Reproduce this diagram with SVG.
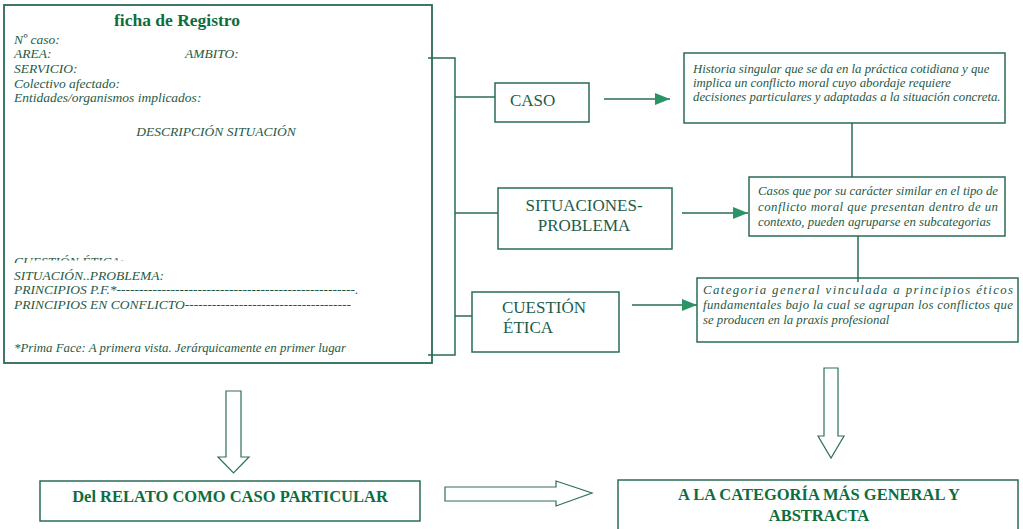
<svg xmlns="http://www.w3.org/2000/svg" width="1023" height="529" viewBox="0 0 1023 529">
<style>
.box{fill:none;stroke:#2a6b58;stroke-width:1.5}
.ln{fill:none;stroke:#2a6b58;stroke-width:1.5}
.hol{fill:#fff;stroke:#2f6e5e;stroke-width:1.2}
text{font-family:'Liberation Serif','Times New Roman',serif}
.it{font-style:italic;fill:#1f5a46;font-size:13.5px}
.itr{font-style:italic;fill:#1f5a46;font-size:12.8px}
.lab{fill:#1e5c4a;font-size:17px}
.bold{font-weight:bold;fill:#0d6d3f}
</style>
<defs>
<marker id="ah" markerUnits="userSpaceOnUse" markerWidth="16" markerHeight="12" refX="15" refY="6" orient="auto">
<path d="M0,0 L15,6 L0,12 Z" fill="#2b9467"/>
</marker>
<clipPath id="cutA"><rect x="10" y="250" width="21" height="13"/><rect x="31" y="250" width="150" height="10.5"/></clipPath>
</defs>

<g id="ficha">
<rect class="box" x="4" y="5" width="428" height="358" style="stroke-width:1.8"/>
<text class="bold" x="177" y="26" text-anchor="middle" font-size="17.5">ficha de Registro</text>
<text class="it" x="14" y="43.5">Nº caso:</text>
<text class="it" x="14" y="58">AREA:</text>
<text class="it" x="185" y="58">AMBITO:</text>
<text class="it" x="14" y="72.5">SERVICIO:</text>
<text class="it" x="14" y="87.5">Colectivo afectado:</text>
<text class="it" x="14" y="102">Entidades/organismos implicados:</text>
<text class="it" x="216" y="136" text-anchor="middle" font-size="14">DESCRIPCIÓN SITUACIÓN</text>
<text class="it" x="14" y="266" clip-path="url(#cutA)">CUESTIÓN ÉTICA:</text>
<text class="it" x="14" y="279.5">SITUACIÓN..PROBLEMA:</text>
<text class="it" x="14" y="294">PRINCIPIOS P.F.*-----------------------------------------------------.</text>
<text class="it" x="14" y="308.5">PRINCIPIOS EN CONFLICTO-------------------------------------</text>
<text class="it" x="14" y="352" textLength="332" lengthAdjust="spacingAndGlyphs">*Prima Face: A primera vista. Jerárquicamente en primer lugar</text>
</g>

<g id="caso">
<rect class="box" x="495" y="83" width="94" height="39"/>
<text class="lab" x="510" y="106">CASO</text>
</g>
<g id="situaciones">
<rect class="box" x="498" y="188" width="174" height="61"/>
<text class="lab" x="584" y="211" text-anchor="middle">SITUACIONES-</text>
<text class="lab" x="584" y="231" text-anchor="middle">PROBLEMA</text>
</g>
<g id="cuestion">
<rect class="box" x="472" y="292" width="147" height="60"/>
<text class="lab" x="502" y="313">CUESTIÓN</text>
<text class="lab" x="503" y="333">ÉTICA</text>
</g>

<g id="def-caso">
<rect class="box" x="684" y="53" width="321" height="70"/>
<text class="itr" x="693" y="72.5">Historia singular que se da en la práctica cotidiana y que</text>
<text class="itr" x="693" y="86.5">implica un conflicto moral cuyo abordaje requiere</text>
<text class="itr" x="693" y="100.5">decisiones particulares y adaptadas a la situación concreta.</text>
</g>
<g id="def-situaciones">
<rect class="box" x="749" y="177" width="256" height="59"/>
<text class="itr" x="758" y="195" textLength="240" lengthAdjust="spacing">Casos que por su carácter similar en el tipo de</text>
<text class="itr" x="758" y="211" textLength="240" lengthAdjust="spacing">conflicto moral que presentan dentro de un</text>
<text class="itr" x="758" y="226">contexto, pueden agruparse en subcategorias</text>
</g>
<g id="def-cuestion">
<rect class="box" x="697" y="278" width="321" height="64"/>
<text class="itr" x="703" y="294" textLength="310" lengthAdjust="spacing">Categoria general vinculada a principios   éticos</text>
<text class="itr" x="703" y="309" textLength="310" lengthAdjust="spacing">fundamentales bajo la cual se agrupan los conflictos que</text>
<text class="itr" x="703" y="324">se producen en la praxis profesional</text>
</g>

<g id="relato">
<rect class="box" x="40" y="481" width="380" height="40"/>
<text class="bold" x="230" y="502" text-anchor="middle" font-size="16.5">Del RELATO COMO CASO PARTICULAR</text>
</g>
<g id="categoria">
<rect class="box" x="618" y="480" width="400" height="60"/>
<text class="bold" x="819" y="500" text-anchor="middle" font-size="16.5">A LA CATEGORÍA MÁS GENERAL Y</text>
<text class="bold" x="819" y="521" text-anchor="middle" font-size="16.5">ABSTRACTA</text>
</g>

<g id="connectors">
<path class="ln" d="M428,58 H455 V355 H428"/>
<path class="ln" d="M455,97 H495"/>
<path class="ln" d="M455,213 H498"/>
<path class="ln" d="M455,316 H472"/>
<path class="ln" d="M604,99 H670" marker-end="url(#ah)"/>
<path class="ln" d="M682,213 H748" marker-end="url(#ah)"/>
<path class="ln" d="M632,305 H697" marker-end="url(#ah)"/>
<path class="ln" d="M852,123 V177"/>
<path class="ln" d="M858,236 V282"/>
<polygon class="hol" points="226,391 241,391 241,457 249,457 233.5,473 218,457 226,457"/>
<polygon class="hol" points="824,368 838,368 838,436 844,436 831,458 818,436 824,436"/>
<polygon class="hol" points="445,487 556,487 556,481 592,493 556,506 556,501 445,501"/>
</g>
</svg>
